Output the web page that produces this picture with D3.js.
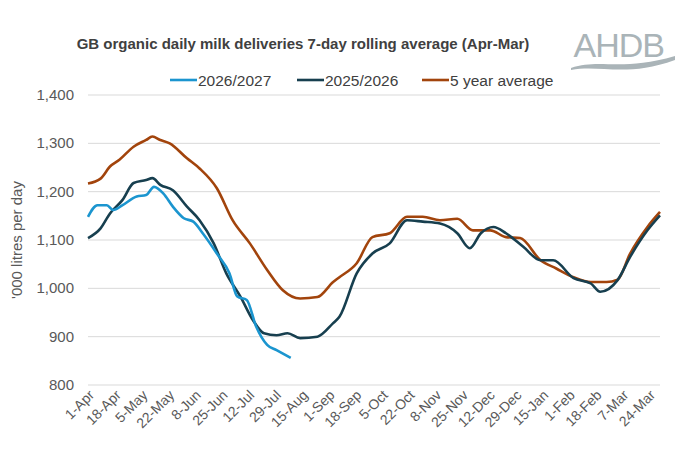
<!DOCTYPE html>
<html><head><meta charset="utf-8">
<script src="https://cdn.jsdelivr.net/npm/d3@7"></script>
<style>body{margin:0;background:#fff;font-family:"Liberation Sans",Arial,sans-serif}</style>
</head><body>
<svg id="chart" width="680" height="469"></svg>
<script>
// day index from 1-Apr (0..364)
var tickLabels = ["1-Apr","18-Apr","5-May","22-May","8-Jun","25-Jun","12-Jul","29-Jul","15-Aug","1-Sep","18-Sep","5-Oct","22-Oct","8-Nov","25-Nov","12-Dec","29-Dec","15-Jan","1-Feb","18-Feb","7-Mar","24-Mar"];
var yTicks = [800, 900, 1000, 1100, 1200, 1300, 1400];

var avgDays = [0,8,14,20,29,37,41,46,52,63,71,82,92,103,114,124,135,146,156,160,171,181,192,203,213,224,235,245,256,266,275,288,298,309,320,330,337,345,356,364];
var avgVals = [1217,1227,1252,1266,1293,1307,1314,1307,1300,1269,1248,1207,1141,1093,1038,996,979,982,1013,1023,1052,1106,1114,1148,1148,1141,1144,1120,1120,1106,1104,1058,1041,1023,1013,1013,1018,1072,1127,1158];

var y25Days = [0,8,14,22,29,37,41,46,54,63,71,80,88,97,105,112,120,127,135,146,156,160,171,181,192,203,213,224,235,243,250,258,266,277,288,296,309,320,326,337,345,356,364];
var y25Vals = [1104,1124,1155,1183,1218,1224,1228,1214,1203,1169,1141,1093,1031,983,934,907,903,907,897,900,928,941,1031,1072,1093,1141,1138,1134,1114,1083,1114,1127,1114,1086,1058,1058,1021,1010,993,1017,1065,1120,1151];

var y26Days = [0,6,12,16,22,31,37,42,48,54,61,67,73,82,90,95,101,107,114,120,129];
var y26Vals = [1148,1172,1172,1162,1172,1190,1193,1210,1196,1169,1145,1138,1114,1072,1031,983,976,921,883,872,856];

var svg = d3.select("#chart");
var x = d3.scaleLinear().domain([0, 364]).range([88, 660]);
var y = d3.scaleLinear().domain([800, 1400]).range([385, 95]);

svg.append("text").attr("x", 303).attr("y", 49).attr("text-anchor", "middle")
  .attr("font-size", 15).attr("font-weight", "bold").attr("fill", "#404040")
  .text("GB organic daily milk deliveries 7-day rolling average (Apr-Mar)");

// logo
svg.append("text").attr("x", 664).attr("y", 57).attr("text-anchor", "end")
  .attr("font-size", 34).attr("fill", "#aab4b8").attr("letter-spacing", -1).text("AHDB");
svg.append("path").attr("d", "M571,68 C600,58 620,72 675,56 L675,60 C625,78 600,64 571,70 Z").attr("fill", "#aab4b8");

// grid
svg.append("g").selectAll("line").data(yTicks).join("line")
  .attr("x1", 88).attr("x2", 660).attr("y1", function(d){return y(d);}).attr("y2", function(d){return y(d);})
  .attr("stroke", "#d9d9d9").attr("stroke-width", 1);

svg.append("g").selectAll("text").data(yTicks).join("text")
  .attr("x", 74).attr("y", function(d){return y(d) + 5;}).attr("text-anchor", "end")
  .attr("font-size", 15).attr("fill", "#595959").text(d3.format(","));

svg.append("text").attr("transform", "translate(22,240) rotate(-90)").attr("text-anchor", "middle")
  .attr("font-size", 15).attr("fill", "#595959").text("'000 litres per day");

svg.append("g").selectAll("text").data(tickLabels).join("text")
  .attr("transform", function(d, i){ return "translate(" + (x(i * 17) + 7) + ",396) rotate(-45)"; })
  .attr("text-anchor", "end").attr("font-size", 14).attr("fill", "#595959").text(function(d){return d;});

var line = d3.line().x(function(d){return x(d[0]);}).y(function(d){return y(d[1]);}).curve(d3.curveMonotoneX);
function draw(days, vals, color) {
  svg.append("path").datum(d3.zip(days, vals)).attr("fill", "none").attr("stroke", color)
    .attr("stroke-width", 2.6).attr("stroke-linejoin", "round").attr("d", line);
}
draw(avgDays, avgVals, "#a2440c");
draw(y25Days, y25Vals, "#173f4f");
draw(y26Days, y26Vals, "#1b95cf");

// legend
var legend = [["2026/2027", "#1b95cf", 170], ["2025/2026", "#173f4f", 297], ["5 year average", "#a2440c", 422]];
legend.forEach(function(l) {
  svg.append("line").attr("x1", l[2]).attr("x2", l[2] + 27).attr("y1", 80).attr("y2", 80)
    .attr("stroke", l[1]).attr("stroke-width", 2.6);
  svg.append("text").attr("x", l[2] + 28).attr("y", 86).attr("font-size", 15.5).attr("fill", "#404040").text(l[0]);
});
</script>
</body></html>
